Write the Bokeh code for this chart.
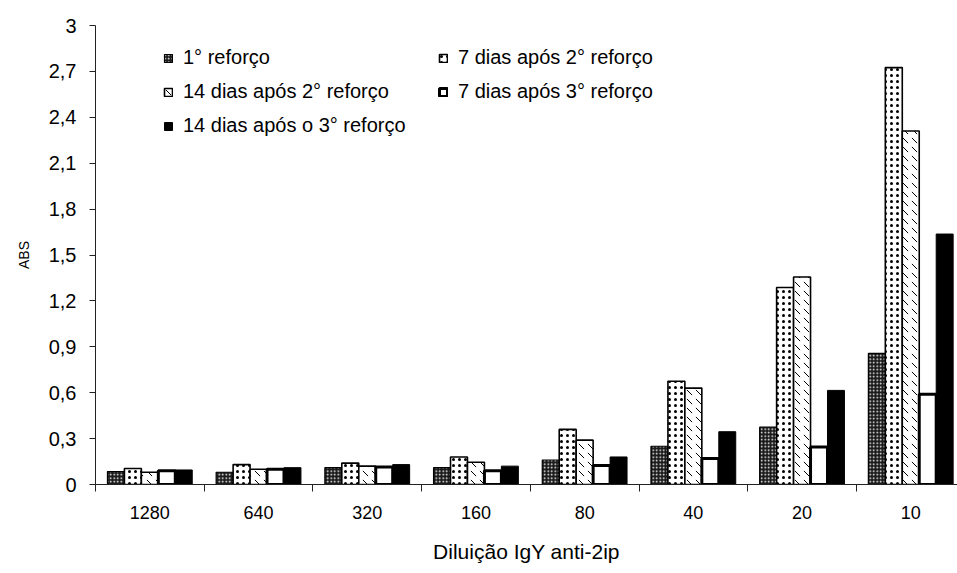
from bokeh.plotting import figure
from bokeh.models import FixedTicker, Legend, LegendItem, Range1d, ColumnDataSource
from bokeh.embed import file_html
from bokeh.resources import INLINE

# ---- data ----
dilutions = ["1280", "640", "320", "160", "80", "40", "20", "10"]
series_names = [
    "1° reforço",
    "7 dias após 2° reforço",
    "14 dias após 2° reforço",
    "7 dias após 3° reforço",
    "14 dias após o 3° reforço",
]
s1 = [0.085, 0.08, 0.11, 0.11, 0.16, 0.25, 0.375, 0.857]
s2 = [0.105, 0.13, 0.14, 0.18, 0.36, 0.675, 1.288, 2.725]
s3 = [0.08, 0.10, 0.12, 0.145, 0.29, 0.63, 1.356, 2.31]
s4 = [0.09, 0.10, 0.115, 0.09, 0.125, 0.17, 0.245, 0.59]
s5 = [0.095, 0.11, 0.13, 0.12, 0.18, 0.345, 0.615, 1.637]
y_ticks = [0, 0.3, 0.6, 0.9, 1.2, 1.5, 1.8, 2.1, 2.4, 2.7, 3.0]
y_tick_labels = ["0", "0,3", "0,6", "0,9", "1,2", "1,5", "1,8", "2,1", "2,4", "2,7", "3"]

FONT = "Liberation Sans"

p = figure(width=957, height=573, output_backend="svg", toolbar_location=None,
           x_range=Range1d(0, 7.93), y_range=Range1d(0, 3))
p.min_border_left = 95
p.min_border_right = 0
p.min_border_top = 25
p.min_border_bottom = 89
p.outline_line_color = None
p.xgrid.visible = False
p.ygrid.visible = False
p.background_fill_color = "white"
p.border_fill_color = "white"

n = len(dilutions)
centers = [i + 0.5 for i in range(n)]
bw = 0.156

styles = [
    dict(fill_color="#1a1a1a", hatch_pattern="dot", hatch_color="white", hatch_scale=3.5, hatch_weight=1,
         line_color="black", line_width=1.2),
    dict(fill_color="white", hatch_pattern="dot", hatch_color="black", hatch_scale=6, hatch_weight=1,
         line_color="black", line_width=1.6),
    dict(fill_color="white", hatch_pattern="left_diagonal_dash", hatch_color="black", hatch_scale=9, hatch_weight=1,
         line_color="black", line_width=1.6),
    dict(fill_color="white", line_color="black", line_width=3),
    dict(fill_color="black", line_color="black", line_width=1),
]

all_series = [s1, s2, s3, s4, s5]
renderers = []
for k, (vals, st) in enumerate(zip(all_series, styles)):
    src = ColumnDataSource(dict(x=[c + (k - 2) * bw for c in centers], top=vals))
    r = p.vbar(x="x", top="top", width=bw, bottom=0, source=src, **st)
    renderers.append(r)

# x axis: labels at centers, ticks at boundaries
p.xaxis.ticker = FixedTicker(ticks=centers, minor_ticks=list(range(0, n)))
p.xaxis.major_label_overrides = {c: d for c, d in zip(centers, dilutions)}
p.xaxis.major_tick_out = 0
p.xaxis.major_tick_in = 0
p.xaxis.minor_tick_out = 7
p.xaxis.minor_tick_in = 0
p.xaxis.major_label_standoff = 14
p.xaxis.major_label_text_font = FONT
p.xaxis.major_label_text_font_size = "18px"
p.xaxis.major_label_text_color = "black"
p.xaxis.axis_label = "Diluição IgY anti-2ip"
p.xaxis.axis_label_text_font = FONT
p.xaxis.axis_label_text_font_size = "21px"
p.xaxis.axis_label_text_font_style = "normal"
p.xaxis.axis_label_text_color = "black"
p.xaxis.axis_label_standoff = 18
p.xaxis.axis_line_color = "#222"
p.xaxis.minor_tick_line_color = "#222"

p.yaxis.ticker = FixedTicker(ticks=y_ticks)
p.yaxis.major_label_overrides = {t: l for t, l in zip(y_ticks, y_tick_labels)}
p.yaxis.minor_tick_line_color = None
p.yaxis.major_tick_out = 6
p.yaxis.major_tick_in = 0
p.yaxis.major_label_standoff = 13
p.yaxis.major_label_text_font = FONT
p.yaxis.major_label_text_font_size = "20px"
p.yaxis.major_label_text_color = "black"
p.yaxis.axis_label = "ABS"
p.yaxis.axis_label_text_font = FONT
p.yaxis.axis_label_text_font_size = "14px"
p.yaxis.axis_label_text_font_style = "normal"
p.yaxis.axis_label_text_color = "black"
p.yaxis.axis_label_standoff = 14
p.yaxis.axis_line_color = "#222"
p.yaxis.major_tick_line_color = "#222"

items = [LegendItem(label=name, renderers=[r]) for name, r in zip(series_names, renderers)]
legend = Legend(items=items, location=(68, 347), orientation="horizontal", ncols=2,
                label_text_font=FONT, label_text_font_size="20px", label_text_color="black",
                glyph_width=10, glyph_height=10, label_standoff=10, spacing=11,
                label_width=244, padding=0, margin=0,
                border_line_color=None, background_fill_alpha=0)
p.add_layout(legend, "center")

open("out.html", "w").write(file_html(p, INLINE))
